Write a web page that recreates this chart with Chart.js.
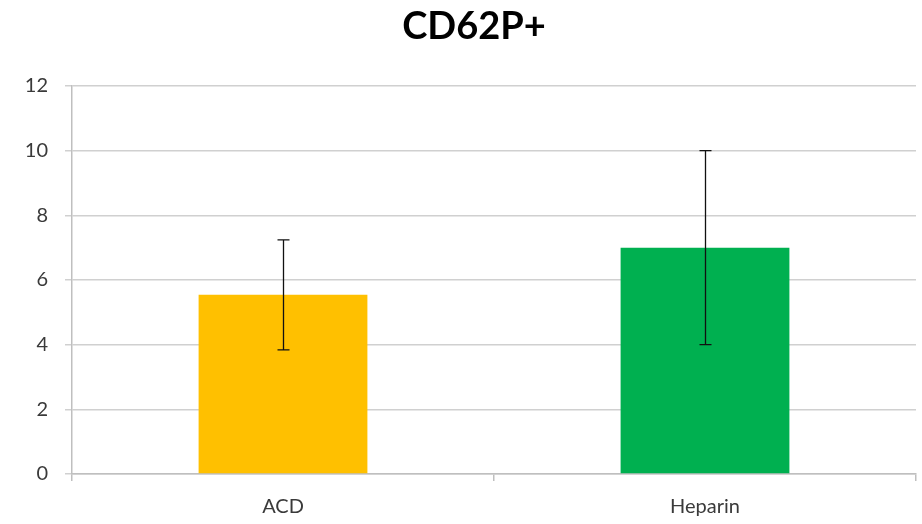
<!DOCTYPE html>
<html>
<head>
<meta charset="utf-8">
<script src="https://cdn.jsdelivr.net/npm/chart.js@4"></script>
<style>
  html, body { margin: 0; padding: 0; background: #fff; }
  #wrap { width: 922px; height: 524px; }
</style>
</head>
<body>
<div id="wrap"><canvas id="chart" width="922" height="524"></canvas></div>
<script>
// Chart data
const chartTitle = 'CD62P+';
const categories = ['ACD', 'Heparin'];
const values = [5.54, 7.0];
const errors = [1.7, 3.0];
const barColors = ['#FFC000', '#00B050'];
const yTicks = [0, 2, 4, 6, 8, 10, 12];

const labelFont = { family: 'Lato, "Open Sans", sans-serif', size: 20 };

// Draws the title centred over the whole figure
const titlePlugin = {
    id: 'figTitle',
    afterDraw(chart) {
        const ctx = chart.ctx;
        ctx.save();
        ctx.font = 'bold 38px Lato, "Open Sans", sans-serif';
        ctx.fillStyle = '#000';
        ctx.textAlign = 'center';
        ctx.textBaseline = 'middle';
        ctx.fillText(chartTitle, 474, 27);
        ctx.restore();
    }
};

// Error bars using the chart's own scales
const errorBarPlugin = {
    id: 'errorBars',
    afterDatasetsDraw(chart) {
        const ctx = chart.ctx;
        const meta = chart.getDatasetMeta(0);
        const yScale = chart.scales.y;
        ctx.save();
        ctx.strokeStyle = '#111';
        ctx.lineWidth = 1.3;
        meta.data.forEach((bar, i) => {
            const x = Math.round(bar.x) + 0.5;
            const top = yScale.getPixelForValue(values[i] + errors[i]);
            const bottom = yScale.getPixelForValue(values[i] - errors[i]);
            ctx.beginPath();
            ctx.moveTo(x, top);
            ctx.lineTo(x, bottom);
            ctx.moveTo(x - 6, top);
            ctx.lineTo(x + 6, top);
            ctx.moveTo(x - 6, bottom);
            ctx.lineTo(x + 6, bottom);
            ctx.stroke();
        });
        ctx.restore();
    }
};

new Chart(document.getElementById('chart').getContext('2d'), {
    type: 'bar',
    data: {
        labels: categories,
        datasets: [{
            data: values,
            backgroundColor: barColors,
            borderWidth: 0,
            categoryPercentage: 0.4,
            barPercentage: 1.0
        }]
    },
    options: {
        responsive: false,
        animation: false,
        layout: { padding: { top: 86, right: 6, left: 0, bottom: 0 } },
        plugins: {
            legend: { display: false },
            tooltip: { enabled: false }
        },
        scales: {
            x: {
                offset: true,
                grid: {
                    offset: true,
                    drawOnChartArea: false,
                    drawTicks: true,
                    tickLength: 7,
                    color: '#bfbfbf',
                    lineWidth: 1.5
                },
                border: { color: '#bfbfbf', width: 1.5 },
                ticks: { font: labelFont, color: '#3a3a3a', padding: 14 },
                afterFit(scale) { scale.height = 50; }
            },
            y: {
                min: 0,
                max: 12,
                afterBuildTicks(scale) { scale.ticks = yTicks.map(v => ({ value: v })); },
                grid: { color: '#d0d0d0', lineWidth: 1.5, tickLength: 7 },
                border: { color: '#bfbfbf', width: 1.5 },
                ticks: { font: labelFont, color: '#3a3a3a', padding: 17 },
                afterFit(scale) { scale.width = 72; }
            }
        }
    },
    plugins: [titlePlugin, errorBarPlugin]
});
</script>
</body>
</html>
